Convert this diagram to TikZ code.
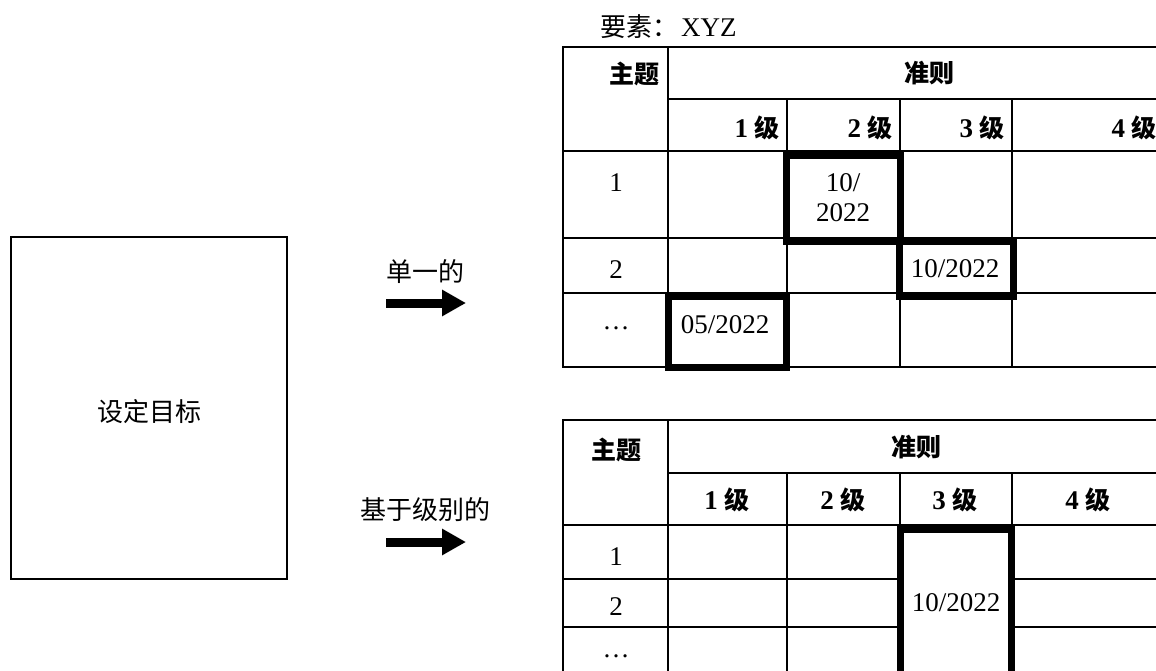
\documentclass[tikz,border=0pt]{standalone}
\usepackage{fontspec}
\setmainfont{Liberation Serif}
\newfontfamily\cjk{Noto Sans CJK SC}
\usetikzlibrary{arrows.meta}
\newcommand\zhr[1]{{\cjk\fontsize{26}{30}\selectfont #1}}
\newcommand\zhh[1]{{\cjk\bfseries\fontsize{25}{30}\selectfont #1}}
\newcommand\lvl[1]{{\bfseries #1\ }\zhh{级}}
\begin{document}
\begin{tikzpicture}[x=1pt,y=-1pt,
  grid/.style={line width=2pt},
  hl/.style={line width=7pt},
  txt/.style={inner sep=0pt, font=\fontsize{27}{31}\selectfont},
  bigarrow/.style={line width=9pt, -{Triangle[length=24pt,width=25pt]}},
  goalbox/.style={draw, line width=2pt, minimum width=276pt, minimum height=342pt, inner sep=0pt}]
\useasboundingbox (0,0) rectangle (1156,671);
\clip (0,0) rectangle (1156,671);

% left box
\node[goalbox] (goal) at (149,408) {};
\node[txt] (goaltxt) at (149.5,412) {\zhr{设定目标}};

% arrows and labels
\node[txt] (lab1) at (425,272) {\zhr{单一的}};
\coordinate (a1s) at (386,303);
\coordinate (a1e) at (466,303);
\draw[bigarrow] (a1s) -- (a1e);
\node[txt] (lab2) at (425,510) {\zhr{基于级别的}};
\coordinate (a2s) at (386,542);
\coordinate (a2e) at (466,542);
\draw[bigarrow] (a2s) -- (a2e);

% ---------- top table ----------
\node[txt, anchor=west] (elem) at (600,27) {\zhr{要素：}\hspace{3pt}XYZ};
\draw[grid] (1170,47) -- (563,47) -- (563,367) -- (1170,367);
\draw[grid] (668,47) -- (668,367);
\draw[grid] (668,99) -- (1170,99);
\draw[grid] (563,151) -- (1170,151);
\draw[grid] (563,238) -- (1170,238);
\draw[grid] (563,293) -- (1170,293);
\draw[grid] (787,99) -- (787,367);
\draw[grid] (900,99) -- (900,367);
\draw[grid] (1012,99) -- (1012,367);

\node[txt, anchor=east] (t1topic) at (660,74) {\zhh{主题}};
\node[txt] (t1crit) at (929,73) {\zhh{准则}};
\node[txt, anchor=east] (t1l1) at (780,128) {\lvl{1}};
\node[txt, anchor=east] (t1l2) at (893,128) {\lvl{2}};
\node[txt, anchor=east] (t1l3) at (1005,128) {\lvl{3}};
\node[txt, anchor=east] (t1l4) at (1157,128) {\lvl{4}};
\node[txt] (t1r1) at (616,183) {1};
\node[txt] (t1r2) at (616,270) {2};
\node[txt] (t1r3) at (616,328) {\ldots};

\draw[hl] (786.5,155.5) rectangle (900.5,241.5);
\draw[hl] (899.5,241.5) rectangle (1013.5,296.5);
\draw[hl] (668.5,296.5) rectangle (786.5,367.5);
\node[txt] (t1d1a) at (843,183) {10/};
\node[txt] (t1d1b) at (843,213) {2022};
\node[txt] (t1d2) at (955,269) {10/2022};
\node[txt] (t1d3) at (725,325) {05/2022};

% ---------- bottom table ----------
\draw[grid] (1170,420) -- (563,420) -- (563,700);
\draw[grid] (668,420) -- (668,700);
\draw[grid] (668,473) -- (1170,473);
\draw[grid] (563,525) -- (1170,525);
\draw[grid] (563,579) -- (1170,579);
\draw[grid] (563,627) -- (1170,627);
\draw[grid] (787,473) -- (787,700);
\draw[grid] (900,473) -- (900,700);
\draw[grid] (1012,473) -- (1012,700);

\node[txt] (t2topic) at (616,450) {\zhh{主题}};
\node[txt] (t2crit) at (916,447) {\zhh{准则}};
\node[txt] (t2l1) at (727,500) {\lvl{1}};
\node[txt] (t2l2) at (843,500) {\lvl{2}};
\node[txt] (t2l3) at (955,500) {\lvl{3}};
\node[txt] (t2l4) at (1088,500) {\lvl{4}};
\node[txt] (t2r1) at (616,557) {1};
\node[txt] (t2r2) at (616,607) {2};
\node[txt] (t2r3) at (616,656) {\ldots};

\draw[fill=white, draw=none] (900.5,529.5) rectangle (1011.5,700);
\draw[hl] (900.5,700) -- (900.5,529.5) -- (1011.5,529.5) -- (1011.5,700);
\node[txt] (t2d) at (956,603) {10/2022};
\end{tikzpicture}
\end{document}
